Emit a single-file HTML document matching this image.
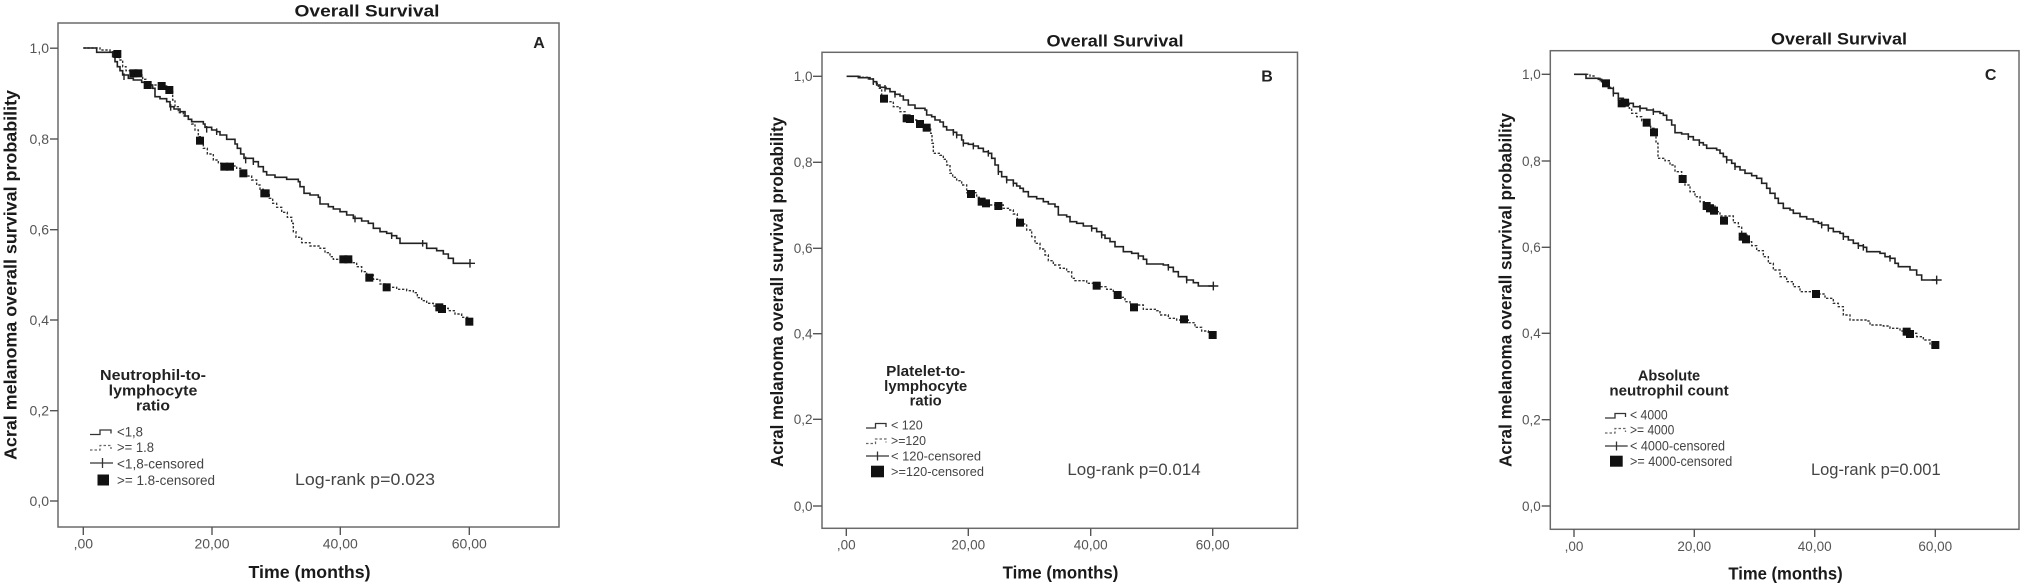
<!DOCTYPE html>
<html><head><meta charset="utf-8"><style>
html,body{margin:0;padding:0;background:#fff;}
svg{display:block;}
text{font-family:"Liberation Sans",Arial,sans-serif;}
.tl{font-size:14px;fill:#555;}
.tb{font-size:13.5px;fill:#555;}
.ttl{font-size:17px;font-weight:bold;fill:#1a1a1a;}
.ax{font-size:17.5px;font-weight:bold;fill:#1a1a1a;}
.lt{font-size:14.5px;font-weight:bold;fill:#222;}
.li{font-size:13.5px;fill:#444;}
.lr{font-size:17px;fill:#444;}
.box{fill:none;stroke:#6a6a6a;stroke-width:1.5;}
.tk{stroke:#555;stroke-width:1.4;}
.sol{fill:none;stroke:#222;stroke-width:4.8;}
.dsh{fill:none;stroke:#333;stroke-width:4.2;stroke-dasharray:7 5;}
.cen{fill:none;stroke:#222;stroke-width:4.2;}
.sq{fill:#111;}
.lsol{fill:none;stroke:#333;stroke-width:1.3;}
.ldsh{fill:none;stroke:#666;stroke-width:1.3;stroke-dasharray:2.5 2;}
</style></head>
<body>
<svg width="2032" height="585" viewBox="0 0 2032 585" xmlns="http://www.w3.org/2000/svg">
<rect width="2032" height="585" fill="#fff"/>

<!-- ================= PANEL A ================= -->
<text class="ttl" x="367" y="16.5" text-anchor="middle" textLength="145" lengthAdjust="spacingAndGlyphs">Overall Survival</text>
<rect class="box" x="58" y="23" width="501" height="504"/>
<text x="539" y="48" text-anchor="middle" style="font-size:16px;font-weight:bold;fill:#222">A</text>
<g class="tk">
<line x1="50" y1="48.2" x2="58" y2="48.2"/><line x1="50" y1="139" x2="58" y2="139"/>
<line x1="50" y1="229.7" x2="58" y2="229.7"/><line x1="50" y1="320" x2="58" y2="320"/>
<line x1="50" y1="410.7" x2="58" y2="410.7"/><line x1="50" y1="501" x2="58" y2="501"/>
<line x1="83.3" y1="527" x2="83.3" y2="535"/><line x1="212" y1="527" x2="212" y2="535"/>
<line x1="340.3" y1="527" x2="340.3" y2="535"/><line x1="469.3" y1="527" x2="469.3" y2="535"/>
</g>
<g class="tl" text-anchor="end">
<text x="49" y="53.2">1,0</text><text x="49" y="144">0,8</text><text x="49" y="234.7">0,6</text>
<text x="49" y="325">0,4</text><text x="49" y="415.7">0,2</text><text x="49" y="506">0,0</text>
</g>
<g class="tl" text-anchor="middle">
<text x="83.3" y="548.5">,00</text><text x="212" y="548.5">20,00</text>
<text x="340.3" y="548.5">40,00</text><text x="469.3" y="548.5">60,00</text>
</g>
<text class="ax" x="309.5" y="578" text-anchor="middle" textLength="122" lengthAdjust="spacingAndGlyphs">Time (months)</text>
<text class="ax" transform="translate(16.5,275) rotate(-90)" text-anchor="middle" textLength="370" lengthAdjust="spacingAndGlyphs">Acral melanoma overall survival probability</text>
<text class="lt" x="153" y="380" text-anchor="middle" textLength="106" lengthAdjust="spacingAndGlyphs">Neutrophil-to-</text>
<text class="lt" x="153" y="395.3" text-anchor="middle" textLength="88.7" lengthAdjust="spacingAndGlyphs">lymphocyte</text>
<text class="lt" x="153" y="410.7" text-anchor="middle" textLength="34" lengthAdjust="spacingAndGlyphs">ratio</text>
<path class="lsol" d="M90,434.5 H100 V430 H111 V433.5"/>
<path class="ldsh" d="M90,450 H100 V445.5 H111 V449"/>
<path class="lsol" d="M90,463 H113 M102.5,458 V468"/>
<rect class="sq" x="97.5" y="474.5" width="11.5" height="11"/>
<g class="li">
<text x="117" y="436.5" textLength="26" lengthAdjust="spacingAndGlyphs">&lt;1,8</text>
<text x="117" y="452" textLength="37" lengthAdjust="spacingAndGlyphs">&gt;= 1.8</text>
<text x="117" y="468.5" textLength="87" lengthAdjust="spacingAndGlyphs">&lt;1,8-censored</text>
<text x="117" y="485" textLength="98" lengthAdjust="spacingAndGlyphs">&gt;= 1.8-censored</text>
</g>
<text class="lr" x="365" y="485" text-anchor="middle" textLength="140" lengthAdjust="spacingAndGlyphs">Log-rank p=0.023</text>
<g transform="scale(0.333333)">
<path class="dsh" d="M250,144 H300 V150 H330 V155 H345 V162 H358 V180 H368 V200 H378 V212 H390 V218 H418 V225 H428 V238 H438 V250 H450 V255 H480 V258 H500 V265 H512 V272 H518 V300 H525 V320 H535 V338 H550 V348 H565 V358 H575 V372 H585 V390 H595 V410 H603 V430 H610 V445 H622 V462 H640 V480 H655 V490 H665 V498 H710 V505 H722 V515 H740 V528 H755 V540 H770 V555 H780 V568 H790 V580 H808 V595 H818 V610 H830 V622 H845 V637 H862 V652 H875 V670 H880 V695 H888 V712 H905 V728 H930 V738 H960 V745 H975 V758 H990 V770 H1000 V778 H1055 V788 H1070 V800 H1085 V815 H1100 V825 H1120 V838 H1140 V852 H1160 V862 H1190 V868 H1220 V872 H1240 V878 H1252 V893 H1265 V902 H1280 V910 H1300 V918 H1330 V925 H1345 V932 H1365 V942 H1385 V952 H1408 V965"/>
<path class="sol" d="M250,144 H290 V157 H338 V170 H345 V185 H352 V200 H360 V212 H368 V225 H385 V235 H400 V240 H425 V247 H440 V255 H458 V265 H465 V290 H480 V296 H500 V305 H510 V320 H522 V327 H540 V335 H555 V348 H565 V358 H575 V365 H610 V372 H615 V382 H635 V390 H650 V395 H660 V405 H680 V418 H705 V432 H712 V445 H722 V462 H732 V475 H760 V485 H775 V500 H790 V515 H800 V525 H825 V532 H860 V538 H895 V545 H900 V560 H912 V580 H930 V585 H955 V592 H960 V612 H985 V620 H1000 V627 H1020 V635 H1040 V645 H1060 V655 H1085 V663 H1105 V670 H1120 V685 H1140 V695 H1160 V700 H1175 V707 H1190 V715 H1200 V730 H1280 V745 H1310 V752 H1330 V762 H1345 V775 H1360 V790 H1410"/>
<path class="cen" d="M372,220 V240 M512,312 V332 M620,378 V398 M650,385 V405 M737,470 V490 M760,475 V495 M1065,647 V667 M1175,697 V717 M1268,720 V740 M1395,790 H1425 M1410,777 V803"/>
<g class="sq">
<rect x="340" y="150" width="24" height="24"/><rect x="388" y="208" width="24" height="24"/><rect x="403" y="208" width="24" height="24"/>
<rect x="431" y="243" width="24" height="24"/><rect x="473" y="246" width="24" height="24"/><rect x="496" y="258" width="24" height="24"/>
<rect x="588" y="410" width="24" height="24"/><rect x="661" y="488" width="24" height="24"/><rect x="678" y="488" width="24" height="24"/>
<rect x="718" y="508" width="24" height="24"/><rect x="781" y="568" width="28" height="24"/><rect x="1018" y="766" width="24" height="24"/>
<rect x="1033" y="766" width="24" height="24"/><rect x="1096" y="821" width="24" height="24"/><rect x="1148" y="850" width="24" height="24"/>
<rect x="1306" y="910" width="24" height="24"/><rect x="1314" y="915" width="24" height="24"/><rect x="1396" y="953" width="24" height="24"/>
</g>
</g>

<!-- ================= PANEL B ================= -->
<text class="ttl" x="1115" y="46.5" text-anchor="middle" textLength="137" lengthAdjust="spacingAndGlyphs">Overall Survival</text>
<rect class="box" x="822" y="52.3" width="475.5" height="476"/>
<text x="1267" y="81.5" text-anchor="middle" style="font-size:16px;font-weight:bold;fill:#222">B</text>
<g class="tk">
<line x1="813" y1="76.3" x2="822" y2="76.3"/><line x1="813" y1="162.3" x2="822" y2="162.3"/>
<line x1="813" y1="248.3" x2="822" y2="248.3"/><line x1="813" y1="333.7" x2="822" y2="333.7"/>
<line x1="813" y1="419.3" x2="822" y2="419.3"/><line x1="813" y1="506" x2="822" y2="506"/>
<line x1="846.3" y1="528.3" x2="846.3" y2="536"/><line x1="968.3" y1="528.3" x2="968.3" y2="536"/>
<line x1="1090.7" y1="528.3" x2="1090.7" y2="536"/><line x1="1212.7" y1="528.3" x2="1212.7" y2="536"/>
</g>
<g class="tb" text-anchor="end">
<text x="812.5" y="81.2">1,0</text><text x="812.5" y="167.2">0,8</text><text x="812.5" y="253.2">0,6</text>
<text x="812.5" y="338.6">0,4</text><text x="812.5" y="424.2">0,2</text><text x="812.5" y="511">0,0</text>
</g>
<g class="tb" text-anchor="middle">
<text x="846.3" y="549.5">,00</text><text x="968.3" y="549.5">20,00</text>
<text x="1090.7" y="549.5">40,00</text><text x="1212.7" y="549.5">60,00</text>
</g>
<text class="ax" x="1060.5" y="578.3" text-anchor="middle" textLength="115.7" lengthAdjust="spacingAndGlyphs">Time (months)</text>
<text class="ax" transform="translate(783,292) rotate(-90)" text-anchor="middle" textLength="350" lengthAdjust="spacingAndGlyphs">Acral melanoma overall survival probability</text>
<text class="lt" x="925.7" y="376" text-anchor="middle" textLength="79" lengthAdjust="spacingAndGlyphs">Platelet-to-</text>
<text class="lt" x="925.7" y="391" text-anchor="middle" textLength="83" lengthAdjust="spacingAndGlyphs">lymphocyte</text>
<text class="lt" x="925.7" y="405.7" text-anchor="middle" textLength="32" lengthAdjust="spacingAndGlyphs">ratio</text>
<path class="lsol" d="M866,428 H875.5 V423.5 H886 V427"/>
<path class="ldsh" d="M866,443.5 H875.5 V439 H886 V442.5"/>
<path class="lsol" d="M866,456 H889 M877.5,451.5 V460.5"/>
<rect class="sq" x="871" y="465.7" width="13" height="11.6"/>
<g class="li" style="font-size:13px">
<text x="891" y="429.5" textLength="31.7" lengthAdjust="spacingAndGlyphs">&lt; 120</text>
<text x="891" y="445" textLength="35" lengthAdjust="spacingAndGlyphs">&gt;=120</text>
<text x="891" y="460.5" textLength="90" lengthAdjust="spacingAndGlyphs">&lt; 120-censored</text>
<text x="891" y="476" textLength="93" lengthAdjust="spacingAndGlyphs">&gt;=120-censored</text>
</g>
<text class="lr" x="1134" y="475" text-anchor="middle" textLength="133.3" lengthAdjust="spacingAndGlyphs">Log-rank p=0.014</text>
<g transform="translate(780,0) scale(0.333333)">
<path class="dsh" d="M200,229 H240 V232 H265 V237 H280 V250 H295 V265 H305 V290 H318 V305 H340 V320 H360 V335 H375 V352 H400 V360 H410 V368 H430 V378 H445 V385 H452 V400 H456 V430 H460 V460 H480 V466 H490 V478 H500 V495 H510 V520 H518 V532 H530 V542 H545 V555 H560 V578 H590 V592 H600 V602 H625 V615 H670 V625 H685 V630 H700 V642 H712 V660 H725 V672 H740 V690 H755 V710 H765 V730 H780 V747 H795 V765 H805 V782 H820 V795 H840 V805 H860 V815 H875 V835 H885 V842 H920 V850 H960 V860 H980 V868 H1000 V880 H1020 V892 H1035 V905 H1050 V915 H1090 V928 H1130 V932 H1140 V945 H1165 V955 H1190 V960 H1225 V968 H1245 V982 H1265 V993 H1285 V1002 H1298"/>
<path class="sol" d="M200,229 H235 V233 H270 V237 H280 V245 H290 V255 H300 V262 H318 V266 H330 V275 H345 V283 H360 V288 H370 V300 H385 V315 H405 V325 H435 V330 H440 V345 H455 V350 H465 V360 H480 V366 H490 V380 H500 V390 H520 V397 H530 V405 H545 V420 H550 V430 H565 V433 H580 V438 H595 V445 H610 V455 H625 V460 H635 V475 H645 V495 H655 V515 H665 V530 H680 V540 H700 V550 H710 V558 H720 V565 H730 V575 H745 V590 H770 V596 H790 V605 H805 V612 H825 V620 H835 V645 H860 V650 H870 V665 H890 V670 H910 V678 H935 V685 H950 V695 H965 V705 H975 V715 H990 V725 H1005 V740 H1030 V755 H1055 V760 H1075 V768 H1090 V778 H1100 V792 H1150 V795 H1165 V802 H1180 V815 H1195 V830 H1220 V840 H1240 V848 H1255 V858 H1300"/>
<path class="cen" d="M280,235 V255 M315,255 V275 M345,273 V293 M520,387 V407 M530,395 V415 M550,420 V440 M580,428 V448 M625,450 V470 M655,505 V525 M680,530 V550 M700,540 V560 M935,675 V695 M965,695 V715 M1075,758 V778 M1165,792 V812 M1220,830 V850 M1285,858 H1315 M1300,845 V871"/>
<g class="sq">
<rect x="300" y="284" width="24" height="24"/><rect x="368" y="343" width="24" height="24"/><rect x="378" y="345" width="24" height="24"/>
<rect x="408" y="360" width="24" height="24"/><rect x="428" y="371" width="24" height="24"/><rect x="561" y="570" width="24" height="24"/>
<rect x="593" y="593" width="24" height="24"/><rect x="606" y="598" width="24" height="24"/><rect x="643" y="606" width="24" height="24"/>
<rect x="708" y="656" width="24" height="24"/><rect x="938" y="845" width="24" height="24"/><rect x="1001" y="873" width="24" height="24"/>
<rect x="1050" y="910" width="24" height="24"/><rect x="1200" y="946" width="24" height="24"/><rect x="1286" y="993" width="24" height="24"/>
</g>
</g>

<!-- ================= PANEL C ================= -->
<text class="ttl" x="1839" y="44.7" text-anchor="middle" textLength="136" lengthAdjust="spacingAndGlyphs">Overall Survival</text>
<rect class="box" x="1550.3" y="50.7" width="468.7" height="478.6"/>
<text x="1990.7" y="80" text-anchor="middle" style="font-size:16px;font-weight:bold;fill:#222">C</text>
<g class="tk">
<line x1="1541.7" y1="74.3" x2="1550.3" y2="74.3"/><line x1="1541.7" y1="161" x2="1550.3" y2="161"/>
<line x1="1541.7" y1="247.3" x2="1550.3" y2="247.3"/><line x1="1541.7" y1="333.3" x2="1550.3" y2="333.3"/>
<line x1="1541.7" y1="419.7" x2="1550.3" y2="419.7"/><line x1="1541.7" y1="506" x2="1550.3" y2="506"/>
<line x1="1574" y1="529.3" x2="1574" y2="537"/><line x1="1694.3" y1="529.3" x2="1694.3" y2="537"/>
<line x1="1814.7" y1="529.3" x2="1814.7" y2="537"/><line x1="1935.3" y1="529.3" x2="1935.3" y2="537"/>
</g>
<g class="tb" text-anchor="end">
<text x="1540.8" y="79.2">1,0</text><text x="1540.8" y="165.9">0,8</text><text x="1540.8" y="252.2">0,6</text>
<text x="1540.8" y="338.2">0,4</text><text x="1540.8" y="424.6">0,2</text><text x="1540.8" y="511">0,0</text>
</g>
<g class="tb" text-anchor="middle">
<text x="1574" y="551">,00</text><text x="1694.3" y="551">20,00</text>
<text x="1814.7" y="551">40,00</text><text x="1935.3" y="551">60,00</text>
</g>
<text class="ax" x="1785.5" y="579.3" text-anchor="middle" textLength="114.3" lengthAdjust="spacingAndGlyphs">Time (months)</text>
<text class="ax" transform="translate(1511.5,290) rotate(-90)" text-anchor="middle" textLength="354" lengthAdjust="spacingAndGlyphs">Acral melanoma overall survival probability</text>
<text class="lt" x="1669" y="380.7" text-anchor="middle" textLength="62.3" lengthAdjust="spacingAndGlyphs">Absolute</text>
<text class="lt" x="1669" y="395.7" text-anchor="middle" textLength="119.3" lengthAdjust="spacingAndGlyphs">neutrophil count</text>
<path class="lsol" d="M1605,418 H1615 V413.5 H1625.5 V417"/>
<path class="ldsh" d="M1605,433 H1615 V428.5 H1625.5 V432"/>
<path class="lsol" d="M1605,446 H1627.7 M1616.5,441.5 V450.5"/>
<rect class="sq" x="1610" y="455.7" width="12.7" height="11"/>
<g class="li" style="font-size:13.5px">
<text x="1630" y="419.5" textLength="37.7" lengthAdjust="spacingAndGlyphs">&lt; 4000</text>
<text x="1630" y="434.5" textLength="44.3" lengthAdjust="spacingAndGlyphs">&gt;= 4000</text>
<text x="1630" y="450.5" textLength="95" lengthAdjust="spacingAndGlyphs">&lt; 4000-censored</text>
<text x="1630" y="466" textLength="102.3" lengthAdjust="spacingAndGlyphs">&gt;= 4000-censored</text>
</g>
<text class="lr" x="1875.8" y="475" text-anchor="middle" textLength="129.7" lengthAdjust="spacingAndGlyphs">Log-rank p=0.001</text>
<g transform="translate(1500,0) scale(0.333333)">
<path class="dsh" d="M222,223 H270 V228 H285 V235 H300 V242 H315 V250 H325 V262 H340 V280 H355 V300 H380 V312 H388 V325 H395 V340 H410 V350 H425 V362 H445 V372 H452 V385 H462 V400 H468 V430 H474 V475 H495 V482 H510 V495 H525 V515 H545 V535 H555 V555 H570 V575 H585 V590 H600 V605 H615 V615 H645 V635 H660 V648 H700 V668 H715 V680 H725 V705 H745 V725 H755 V737 H770 V752 H790 V770 H805 V790 H820 V810 H840 V830 H860 V845 H880 V860 H900 V875 H940 V882 H975 V895 H1000 V910 H1015 V920 H1030 V945 H1050 V960 H1100 V963 H1110 V975 H1150 V978 H1170 V985 H1200 V993 H1230 V1000 H1250 V1010 H1270 V1020 H1290 V1035 H1306"/>
<path class="sol" d="M222,223 H258 V235 H295 V238 H305 V245 H318 V252 H325 V265 H340 V280 H355 V295 H370 V300 H385 V310 H400 V320 H420 V325 H440 V330 H460 V335 H480 V340 H490 V346 H500 V360 H515 V375 H525 V398 H545 V402 H565 V410 H580 V420 H598 V428 H610 V435 H620 V445 H650 V450 H660 V460 H670 V470 H680 V480 H695 V490 H705 V500 H720 V510 H735 V520 H755 V527 H770 V535 H785 V550 H800 V565 H810 V580 H825 V595 H835 V610 H850 V625 H870 V630 H880 V640 H900 V650 H920 V657 H940 V665 H955 V670 H965 V675 H985 V685 H1000 V695 H1020 V700 H1030 V710 H1045 V720 H1060 V730 H1075 V737 H1090 V742 H1100 V755 H1140 V760 H1155 V770 H1170 V775 H1185 V790 H1195 V800 H1230 V810 H1250 V825 H1265 V840 H1310"/>
<path class="cen" d="M315,240 V260 M340,270 V290 M385,300 V320 M420,315 V335 M460,325 V345 M565,400 V420 M598,418 V438 M680,470 V490 M705,490 V510 M965,665 V685 M985,675 V695 M1030,700 V720 M1075,727 V747 M1090,732 V752 M1170,765 V785 M1295,840 H1325 M1310,827 V853"/>
<g class="sq">
<rect x="306" y="238" width="24" height="24"/><rect x="353" y="298" width="24" height="24"/><rect x="363" y="296" width="24" height="24"/>
<rect x="428" y="356" width="24" height="24"/><rect x="450" y="385" width="24" height="24"/><rect x="536" y="525" width="24" height="24"/>
<rect x="608" y="606" width="24" height="24"/><rect x="618" y="613" width="24" height="24"/><rect x="630" y="620" width="24" height="24"/>
<rect x="660" y="650" width="24" height="24"/><rect x="716" y="698" width="24" height="24"/><rect x="726" y="706" width="24" height="24"/>
<rect x="936" y="870" width="24" height="24"/><rect x="1208" y="983" width="24" height="24"/><rect x="1218" y="990" width="24" height="24"/>
<rect x="1294" y="1023" width="24" height="24"/>
</g>
</g>
</svg>
</body></html>
